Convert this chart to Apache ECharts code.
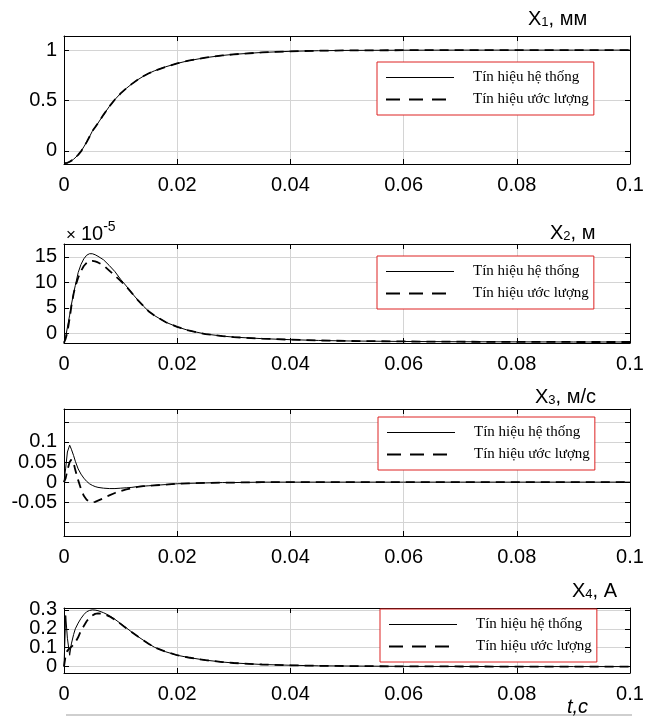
<!DOCTYPE html>
<html>
<head>
<meta charset="utf-8">
<script src="https://cdn.jsdelivr.net/npm/echarts@6/dist/echarts.min.js"></script>
<style>
  html, body { margin: 0; padding: 0; background: #fff; }
  #chart { width: 650px; height: 720px; }
</style>
</head>
<body>
<div id="chart"></div>
<script>
// time samples, seconds
const timeData = [0, 0.0003, 0.0006, 0.001, 0.0013, 0.0017, 0.002, 0.0025, 0.003, 0.0035,
  0.004, 0.0045, 0.005, 0.0055, 0.006, 0.007, 0.008, 0.009, 0.01, 0.011,
  0.012, 0.013, 0.014, 0.015, 0.016, 0.018, 0.02, 0.022, 0.025, 0.028,
  0.03, 0.035, 0.04, 0.045, 0.05, 0.06, 0.07, 0.08, 0.09, 0.1]

// X1, mm
const x1System = [-0.122, -0.121, -0.118, -0.108, -0.098, -0.083, -0.068, -0.04, -0.005, 0.04,
  0.087, 0.14, 0.195, 0.235, 0.275, 0.36, 0.44, 0.51, 0.57, 0.62,
  0.665, 0.705, 0.74, 0.77, 0.795, 0.835, 0.868, 0.895, 0.925, 0.947,
  0.958, 0.977, 0.988, 0.994, 0.997, 0.999, 1, 1, 1, 1]
const x1Estimate = [-0.122, -0.121, -0.118, -0.108, -0.098, -0.083, -0.068, -0.04, -0.005, 0.04,
  0.087, 0.14, 0.195, 0.235, 0.275, 0.36, 0.44, 0.51, 0.57, 0.62,
  0.665, 0.705, 0.74, 0.77, 0.795, 0.835, 0.868, 0.895, 0.925, 0.947,
  0.958, 0.977, 0.988, 0.994, 0.997, 0.999, 1, 1, 1, 1]

// X2, m (x 1e-5)
const x2System = [-1.8, -0.6, 1.2, 3.6, 5.6, 7.9, 9.4, 11.9, 13.5, 14.6,
  15.3, 15.6, 15.6, 15.4, 15.1, 14.4, 13.3, 12.1, 10.6, 9.3,
  7.9, 6.6, 5.4, 4.3, 3.5, 2.2, 1.3, 0.6, -0.1, -0.5,
  -0.7, -1.0, -1.2, -1.35, -1.45, -1.55, -1.6, -1.63, -1.65, -1.65]
const x2Estimate = [-1.8, -1.0, 0.3, 3.0, 5.3, 7.8, 9.2, 10.9, 12.2, 13.2,
  13.8, 14.2, 14.2, 14.1, 13.9, 13.3, 12.3, 11.3, 10.3, 9.2,
  7.9, 6.6, 5.4, 4.3, 3.5, 2.2, 1.3, 0.6, -0.1, -0.5,
  -0.7, -1.0, -1.2, -1.35, -1.45, -1.55, -1.6, -1.63, -1.65, -1.65]

// X3, m/s
const x3System = [0, 0.035, 0.075, 0.092, 0.082, 0.066, 0.052, 0.033, 0.02, 0.01,
  0.002, -0.004, -0.008, -0.011, -0.013, -0.015, -0.016, -0.016, -0.015, -0.014,
  -0.013, -0.011, -0.01, -0.009, -0.008, -0.006, -0.004, -0.003, -0.002, -0.001,
  -0.001, 0, 0, 0, 0, 0, 0, 0, 0, 0]
const x3Estimate = [0, 0.01, 0.03, 0.05, 0.056, 0.048, 0.03, 0.005, -0.017, -0.034,
  -0.044, -0.049, -0.05, -0.049, -0.046, -0.04, -0.033, -0.027, -0.022, -0.018,
  -0.015, -0.012, -0.01, -0.009, -0.008, -0.006, -0.004, -0.003, -0.002, -0.001,
  -0.001, 0, 0, 0, 0, 0, 0, 0, 0, 0]

// X4, A
const x4System = [0, 0.27, 0.15, 0.06, 0.12, 0.17, 0.2, 0.23, 0.255, 0.275,
  0.29, 0.297, 0.3, 0.299, 0.296, 0.285, 0.27, 0.25, 0.228, 0.205,
  0.182, 0.16, 0.14, 0.12, 0.102, 0.078, 0.06, 0.048, 0.034, 0.024,
  0.019, 0.011, 0.007, 0.004, 0.003, 0.001, 0.0005, 0, 0, 0]
const x4Estimate = [0, 0.06, 0.085, 0.097, 0.103, 0.115, 0.128, 0.155, 0.19, 0.215,
  0.24, 0.258, 0.27, 0.279, 0.282, 0.279, 0.266, 0.248, 0.226, 0.203,
  0.182, 0.16, 0.14, 0.12, 0.102, 0.078, 0.06, 0.048, 0.034, 0.024,
  0.019, 0.011, 0.007, 0.004, 0.003, 0.001, 0.0005, 0, 0, 0]

const seriesNames = ['Tín hiệu hệ thống', 'Tín hiệu ước lượng']
const yTickLabels = [
  [0, 0.5, 1],
  [0, 5, 10, 15],
  [-0.05, 0, 0.05, 0.1],
  [0, 0.1, 0.2, 0.3]
]
const panelTitles = [
  ['X', '1', ', мм'],
  ['X', '2', ', м'],
  ['X', '3', ', м/с'],
  ['X', '4', ', A']
]
const panelData = [
  [x1System, x1Estimate],
  [x2System, x2Estimate],
  [x3System, x3Estimate],
  [x4System, x4Estimate]
]

// layout of each subplot
const panels = [
  { top: 36, height: 128, min: -0.13, max: 1.14, split: 3, legendLeft: 377, legendTop: 62, titleLeft: 528, titleTop: 5 },
  { top: 244, height: 99, min: -1.85, max: 17.5, split: 4, legendLeft: 377, legendTop: 256, titleLeft: 550, titleTop: 219 },
  { top: 409, height: 127, min: -0.134, max: 0.182, split: 6, legendLeft: 378, legendTop: 417, titleLeft: 535, titleTop: 383 },
  { top: 608, height: 65, min: -0.034, max: 0.31, split: 3, legendLeft: 380, legendTop: 609, titleLeft: 572, titleTop: 577 }
]

const labelFont = 'Liberation Sans'
const gridColor = '#d4d4d4'

function fmt(v) {
  return String(Number(v.toFixed(6)))
}

function pairs(values) {
  return timeData.map((t, i) => [t, values[i]])
}

const chart = echarts.init(document.getElementById('chart'))

const grids = []
const xAxes = []
const yAxes = []
const series = []
const legends = []
const titles = []

const plainText = { fontFamily: labelFont, color: '#000', fontWeight: 'normal' }

panels.forEach((p, i) => {
  grids.push({ left: 64, right: 20, top: p.top, height: p.height })
  const tickStyle = { show: true, inside: true, length: 5, lineStyle: { color: '#000' } }
  const lineStyle = { show: true, onZero: false, lineStyle: { color: '#000', width: 1 } }
  xAxes[i] = {
    type: 'value', gridIndex: i, min: 0, max: 0.1, interval: 0.02, position: 'bottom',
    axisLine: lineStyle, axisTick: tickStyle,
    axisLabel: { color: '#000', fontFamily: labelFont, fontSize: 20, margin: 11, formatter: fmt },
    splitLine: { show: true, lineStyle: { color: gridColor } }
  }
  xAxes[4 + i] = {
    type: 'value', gridIndex: i, min: 0, max: 0.1, interval: 0.02, position: 'top',
    axisLine: lineStyle, axisTick: tickStyle, axisLabel: { show: false }, splitLine: { show: false }
  }
  const labels = yTickLabels[i]
  yAxes[i] = {
    type: 'value', gridIndex: i, min: p.min, max: p.max, splitNumber: p.split, position: 'left',
    axisLine: lineStyle, axisTick: tickStyle,
    axisLabel: {
      color: '#000', fontFamily: labelFont, fontSize: 20, margin: 7,
      showMinLabel: false, showMaxLabel: false,
      formatter: v => labels.some(l => Math.abs(l - v) < 1e-9) ? fmt(v) : ''
    },
    splitLine: { show: true, lineStyle: { color: gridColor } }
  }
  yAxes[4 + i] = {
    type: 'value', gridIndex: i, min: p.min, max: p.max, splitNumber: p.split, position: 'right',
    axisLine: lineStyle, axisTick: tickStyle, axisLabel: { show: false }, splitLine: { show: false }
  }
  series.push({
    name: seriesNames[0], type: 'line', xAxisIndex: i, yAxisIndex: i,
    data: pairs(panelData[i][0]), symbol: 'none', z: 3,
    lineStyle: { color: '#000', width: 1 }, itemStyle: { color: '#000' }
  })
  series.push({
    name: seriesNames[1], type: 'line', xAxisIndex: i, yAxisIndex: i,
    data: pairs(panelData[i][1]), symbol: 'none', z: 4,
    lineStyle: { color: '#000', width: 1.8, type: [9, 6] }, itemStyle: { color: '#000' }
  })
  legends.push({
    data: [
      { name: seriesNames[0], lineStyle: { width: 1, color: '#000', type: 'solid' } },
      { name: seriesNames[1], lineStyle: { width: 2, color: '#000', type: [14, 9] } }
    ],
    orient: 'vertical', left: p.legendLeft, top: p.legendTop,
    itemWidth: 68, itemHeight: 14, itemGap: 7, padding: [8, 5, 8, 8],
    borderColor: '#dd2222', borderWidth: 1, backgroundColor: '#fff',
    selectedMode: false,
    itemStyle: { opacity: 0 },
    textStyle: { fontFamily: 'Liberation Serif', fontSize: 15, color: '#000', padding: [0, 0, 0, 14] }
  })
  const tt = panelTitles[i]
  titles.push({
    text: '{x|' + tt[0] + '}{s|' + tt[1] + '}{x|' + tt[2] + '}',
    left: p.titleLeft, top: p.titleTop, padding: 0,
    textStyle: {
      fontWeight: 'normal',
      rich: {
        x: Object.assign({ fontSize: 20, lineHeight: 24, verticalAlign: 'bottom' }, plainText),
        s: Object.assign({ fontSize: 13, lineHeight: 13, verticalAlign: 'bottom' }, plainText)
      }
    }
  })
})

titles.push({
  text: '{m|×} {x|10}{p|-5}',
  left: 66, top: 220, padding: 0,
  textStyle: {
    fontWeight: 'normal',
    rich: {
      m: Object.assign({ fontSize: 17, lineHeight: 24, verticalAlign: 'bottom' }, plainText),
      x: Object.assign({ fontSize: 20, lineHeight: 24, verticalAlign: 'bottom' }, plainText),
      p: Object.assign({ fontSize: 14, lineHeight: 14, verticalAlign: 'top' }, plainText)
    }
  }
})
titles.push({
  text: 't,c', left: 567, top: 697, padding: 0,
  textStyle: Object.assign({ fontSize: 20, fontStyle: 'italic' }, plainText)
})

chart.setOption({
  animation: false,
  backgroundColor: '#fff',
  title: titles,
  grid: grids,
  xAxis: xAxes,
  yAxis: yAxes,
  legend: legends,
  series: series,
  graphic: [{
    type: 'line', shape: { x1: 66, y1: 715, x2: 632, y2: 715 },
    style: { stroke: '#cfcfcf', lineWidth: 2 }, silent: true
  }]
})
</script>
</body>
</html>
